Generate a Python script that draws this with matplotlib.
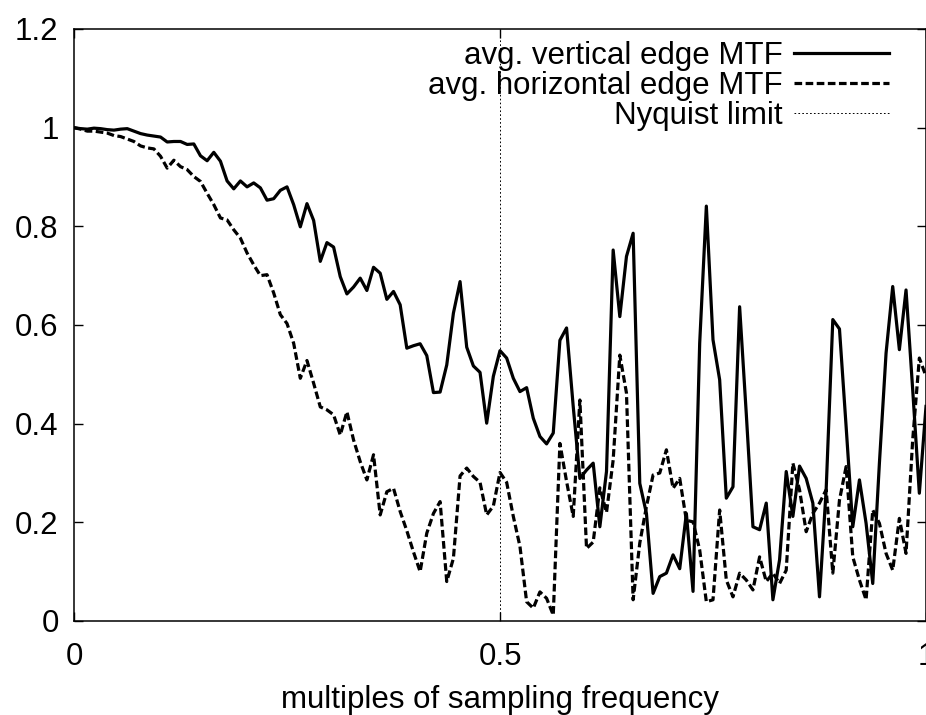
import numpy as np
import matplotlib
matplotlib.use("Agg")
import matplotlib.pyplot as plt

# sample positions: k/128 of sampling frequency, k = 0..128
freq = np.arange(129) / 128.0

vertical_mtf = [
    1.000, 0.998, 0.997, 0.999, 0.998, 0.996, 0.995, 0.997, 0.998, 0.993,
    0.988, 0.985, 0.983, 0.981, 0.971, 0.972, 0.972, 0.966, 0.967, 0.943,
    0.933, 0.950, 0.932, 0.892, 0.876, 0.892, 0.880, 0.888, 0.878, 0.853,
    0.856, 0.873, 0.880, 0.844, 0.799, 0.846, 0.812, 0.729, 0.767, 0.758,
    0.698, 0.663, 0.677, 0.695, 0.670, 0.717, 0.705, 0.652, 0.668, 0.641,
    0.553, 0.558, 0.562, 0.538, 0.463, 0.464, 0.519, 0.624, 0.688, 0.555,
    0.517, 0.504, 0.401, 0.496, 0.548, 0.533, 0.492, 0.465, 0.473, 0.411,
    0.374, 0.359, 0.381, 0.569, 0.594, 0.435, 0.289, 0.306, 0.320, 0.191,
    0.303, 0.752, 0.617, 0.739, 0.786, 0.279, 0.218, 0.056, 0.090, 0.097,
    0.134, 0.106, 0.218, 0.060, 0.563, 0.841, 0.570, 0.489, 0.249, 0.272,
    0.637, 0.420, 0.191, 0.185, 0.239, 0.043, 0.124, 0.303, 0.212, 0.314,
    0.289, 0.239, 0.049, 0.266, 0.611, 0.592, 0.394, 0.191, 0.286, 0.198,
    0.076, 0.320, 0.543, 0.678, 0.550, 0.671, 0.469, 0.259, 0.435,
]

horizontal_mtf = [
    1.000, 0.997, 0.993, 0.993, 0.991, 0.989, 0.984, 0.982, 0.977, 0.972,
    0.963, 0.959, 0.957, 0.942, 0.918, 0.934, 0.921, 0.915, 0.901, 0.891,
    0.867, 0.844, 0.817, 0.813, 0.793, 0.776, 0.746, 0.722, 0.700, 0.702,
    0.665, 0.621, 0.603, 0.563, 0.492, 0.528, 0.482, 0.434, 0.428, 0.418,
    0.377, 0.424, 0.367, 0.323, 0.286, 0.337, 0.215, 0.262, 0.269, 0.222,
    0.183, 0.140, 0.100, 0.178, 0.218, 0.242, 0.080, 0.127, 0.294, 0.310,
    0.293, 0.281, 0.215, 0.233, 0.301, 0.281, 0.212, 0.151, 0.039, 0.026,
    0.059, 0.046, 0.012, 0.360, 0.283, 0.212, 0.448, 0.147, 0.160, 0.270,
    0.220, 0.326, 0.539, 0.462, 0.043, 0.158, 0.232, 0.296, 0.300, 0.347,
    0.269, 0.289, 0.204, 0.201, 0.144, 0.039, 0.043, 0.225, 0.083, 0.049,
    0.097, 0.083, 0.063, 0.130, 0.080, 0.097, 0.076, 0.103, 0.320, 0.266,
    0.181, 0.218, 0.239, 0.266, 0.097, 0.245, 0.313, 0.130, 0.083, 0.043,
    0.225, 0.198, 0.137, 0.103, 0.208, 0.137, 0.367, 0.533, 0.496,
]

nyquist = 0.5
x_ticks = [0, 0.5, 1]
x_tick_labels = ["0", "0.5", "1"]
y_ticks = [0, 0.2, 0.4, 0.6, 0.8, 1.0, 1.2]
y_tick_labels = ["0", "0.2", "0.4", "0.6", "0.8", "1", "1.2"]
legend_labels = ["avg. vertical edge MTF", "avg. horizontal edge MTF", "Nyquist limit"]

plt.rcParams["font.family"] = ["Liberation Sans", "DejaVu Sans"]
plt.rcParams["lines.scale_dashes"] = False

FS = 22.5
W, H = 926, 715
fig = plt.figure(figsize=(W / 100, H / 100), dpi=100)
ax = fig.add_axes([74 / W, (H - 621) / H, 852 / W, 592 / H])

solid_style = dict(color="black", lw=2.3, linestyle="-")
dash_style = dict(color="black", lw=2.3, linestyle=(0, (5.5, 2.5)))
dot_style = dict(color="black", lw=0.7, linestyle=(0, (1.2, 1.6)))

ax.plot(freq, vertical_mtf, **solid_style)
ax.plot(freq, horizontal_mtf, **dash_style)
ax.axvline(nyquist, **dot_style)

ax.set_xlim(0, 1)
ax.set_ylim(0, 1.2)
ax.set_xticks(x_ticks)
ax.set_xticklabels(x_tick_labels)
ax.set_yticks(y_ticks)
ax.set_yticklabels(y_tick_labels)
ax.tick_params(direction="in", length=6.5, width=1.0, labelsize=FS,
               top=True, right=True, labeltop=False, labelright=False)
ax.tick_params(axis="y", pad=11)
ax.tick_params(axis="x", pad=15)
for s in ax.spines.values():
    s.set_linewidth(1.1)

fig.text(500 / W, 1 - 708 / H, "multiples of sampling frequency",
         ha="center", va="baseline", fontsize=FS)

# legend (gnuplot style: right-aligned text, sample to its right)
styles = [solid_style, dash_style, dot_style]
rows_y = [53, 83, 113]
for lab, st, yp in zip(legend_labels, styles, rows_y):
    ya = (621 - yp) / 592
    yb = (621 - (yp + 11)) / 592
    ax.plot([(794 - 74) / 852, (889 - 74) / 852], [ya, ya],
            transform=ax.transAxes, clip_on=False, **st)
    ax.text((783 - 74) / 852, yb, lab, transform=ax.transAxes,
            ha="right", va="baseline", fontsize=FS)

fig.savefig("out.png", dpi=100)
